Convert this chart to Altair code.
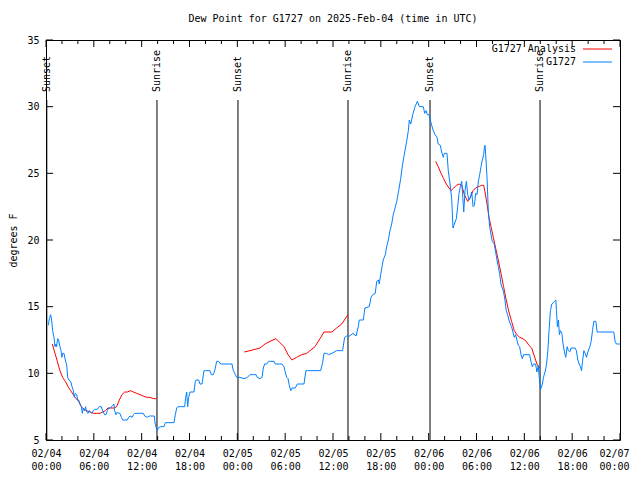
import altair as alt
import pandas as pd

# ---------------- data ----------------
blue_hours = [0.29, 0.42, 0.58, 0.71, 0.83, 1.0, 1.13, 1.25, 1.33, 1.46, 1.58, 1.75, 1.88, 2.0, 2.1, 2.26,
              2.38, 2.6, 2.72, 2.88, 3.1, 3.26, 3.43, 3.55, 3.68, 3.85, 3.97, 4.1, 4.26, 4.43, 4.56, 4.68,
              4.81, 4.97, 5.1, 5.27, 5.43, 5.6, 5.77, 5.94, 6.1, 6.44, 6.69, 6.94, 7.1, 7.36, 7.53, 7.7,
              7.86, 8.1, 8.36, 8.53, 8.6, 8.78, 8.95, 9.1, 9.28, 9.45, 9.62, 10.2, 10.37, 10.54, 10.8,
              10.96, 11.13, 12.2, 12.38, 12.7, 12.96, 13.58, 13.7, 13.88, 13.96, 14.09, 14.38, 14.8,
              14.97, 16.06, 16.22, 16.4, 16.56, 17.4, 17.52, 17.65, 17.77, 17.9, 18.06, 18.56, 18.73,
              18.82, 19.15, 19.32, 19.57, 19.82, 19.98, 20.57, 20.74, 20.99, 21.16, 21.41, 21.66, 21.91,
              23.33, 23.5, 23.75, 23.92, 24.34, 24.84, 25.26, 25.59, 26.0, 26.34, 26.5, 26.84, 27.1,
              27.26, 27.43, 27.68, 27.93, 28.18, 28.6, 28.77, 29.6, 29.85, 30.0, 30.2, 30.36, 30.52,
              30.7, 30.86, 31.27, 31.52, 32.36, 32.6, 32.78, 34.45, 34.7, 34.87, 35.2, 35.45, 35.87,
              36.46, 37.2, 37.46, 37.7, 38.1, 38.5, 38.9, 39.17, 39.3, 39.8, 40.0, 40.55, 40.77, 40.98,
              41.3, 41.48, 41.7, 41.8, 41.98, 42.15, 42.3, 42.56, 42.73, 42.94, 43.15, 43.36, 43.56,
              43.78, 44.0, 44.24, 44.49, 44.66, 44.82, 45.24, 45.45, 45.57, 45.75, 46.0, 46.29, 46.58,
              46.83, 47.33, 47.5, 47.67, 47.83, 48.04, 48.2, 48.38, 48.58, 48.8, 49.05, 49.2, 49.46,
              49.63, 49.83, 49.96, 50.3, 50.46, 50.68, 50.9, 51.05, 51.22, 51.47, 51.64, 51.81, 51.97,
              52.15, 52.28, 52.4, 52.56, 52.73, 52.9, 53.07, 53.23, 53.4, 53.57, 53.73, 53.9, 54.07,
              54.23, 54.4, 54.57, 54.73, 54.9, 54.98, 55.07, 55.15, 55.32, 55.48, 55.65, 55.82, 55.98,
              56.23, 56.4, 56.57, 56.73, 56.9, 57.07, 57.23, 57.4, 57.57, 57.73, 57.9, 58.07, 58.24,
              58.4, 58.57, 58.74, 58.9, 59.07, 59.24, 59.41, 59.58, 59.75, 59.91, 60.66, 60.83, 61.0,
              61.16, 61.41, 61.58, 61.75, 61.87, 62.04, 62.27, 62.4, 62.6, 62.77, 62.95, 63.1, 63.27,
              63.45, 63.62, 63.78, 63.95, 64.03, 64.15, 64.28, 64.4, 64.53, 64.7, 64.86, 65.03, 65.2,
              65.37, 65.53, 65.7, 65.87, 66.37, 66.53, 66.71, 66.87, 67.04, 67.17, 67.3, 67.47, 67.63,
              67.8, 67.97, 68.22, 68.38, 68.55, 68.72, 68.97, 69.13, 71.22, 71.38, 71.55, 72.0]
blue_values = [13.6, 14.1, 14.4, 14.0, 13.2, 12.7, 12.0, 12.2, 12.0, 12.6, 12.5, 12.0, 11.7, 11.2, 11.5, 11.5,
               11.1, 10.6, 9.7, 9.5, 9.4, 9.0, 8.7, 8.2, 8.5, 8.4, 8.0, 8.0, 7.7, 7.5, 7.0, 7.4,
               7.2, 7.5, 7.1, 7.0, 7.2, 7.1, 7.0, 7.2, 7.3, 7.3, 7.5, 7.5, 7.2, 6.9, 6.9, 7.2,
               7.4, 7.4, 7.6, 7.7, 7.2, 6.9, 7.1, 7.0, 7.0, 6.7, 6.5, 6.5, 6.7, 6.8, 6.7,
               6.9, 7.0, 7.0, 6.8, 6.7, 6.8, 6.8, 6.2, 5.8, 5.7, 5.9, 6.0, 6.0,
               6.3, 6.3, 6.9, 7.4, 7.5, 7.5, 8.2, 8.6, 7.5, 8.2, 8.6, 8.6, 9.4,
               9.5, 9.5, 9.2, 9.2, 10.2, 10.2, 10.2, 9.9, 9.9, 10.2, 10.9, 10.9, 10.7,
               10.7, 10.2, 9.9, 9.7, 9.7, 9.6, 9.7, 9.9, 9.9, 9.9, 9.7, 9.6, 9.7,
               10.4, 10.7, 10.7, 10.9, 10.9, 10.9, 10.7, 10.7, 10.5, 10.1, 9.7, 9.6, 9.1,
               8.7, 8.9, 8.9, 9.2, 9.2, 10.2, 10.2, 10.2, 10.8, 11.5, 11.5, 11.4, 11.5,
               11.7, 11.7, 12.7, 12.8, 12.8, 13.0, 12.8, 13.5, 14.0, 14.0, 14.9, 15.0, 15.7, 15.9,
               16.0, 16.9, 17.0, 16.7, 17.4, 18.0, 18.5, 18.9, 19.5, 20.0, 20.7, 21.2, 21.9,
               22.4, 22.9, 23.7, 24.6, 25.4, 26.0, 27.4, 28.2, 29.0, 28.7, 29.4, 30.0, 30.4,
               30.0, 30.0, 29.5, 29.7, 29.4, 29.4, 29.0, 28.6, 28.2, 27.9, 27.7, 27.2, 27.1,
               26.6, 26.2, 26.5, 26.5, 25.2, 24.2, 23.0, 20.9, 21.2, 21.6, 22.5, 23.5, 24.0,
               24.4, 23.2, 22.1, 23.7, 24.4, 23.4, 23.0, 23.2, 23.6, 22.5, 22.6, 23.5, 23.4,
               24.4, 24.9, 25.5, 26.0, 26.4, 26.9, 27.1, 26.4, 24.7, 22.2, 21.0, 20.4, 19.9,
               19.7, 19.1, 18.5, 18.0, 17.5, 16.7, 16.4, 16.1, 15.5, 14.7, 14.4, 14.0, 13.7,
               13.5, 13.1, 12.7, 12.9, 12.5, 12.1, 12.0, 11.4, 11.1, 11.4, 11.4, 10.9, 10.5,
               10.7, 10.7, 10.1, 10.6, 9.7, 8.8, 9.2, 9.7, 10.1, 10.6, 11.7, 13.2, 14.7,
               15.2, 15.3, 15.4, 15.5, 14.7, 13.5, 14.0, 12.9, 13.2, 13.0, 12.2, 11.6, 11.2,
               12.0, 11.7, 11.6, 11.9, 11.9, 11.7, 11.0, 10.7, 10.5, 10.2, 10.9, 11.7, 11.5,
               11.2, 11.6, 12.0, 12.4, 13.2, 13.9, 13.9, 13.1, 13.1, 12.4, 12.2, 12.2]

red1_hours = [0.79, 1.13, 1.42, 1.75, 2.08, 2.42, 2.76, 3.1, 3.43, 3.76, 4.1, 4.43, 4.77, 5.1, 5.52,
              5.94, 6.36, 6.77, 7.1, 7.44, 7.78, 8.1, 8.53, 8.86, 9.2, 9.53, 9.87, 10.2, 10.62, 10.96,
              11.37, 11.79, 12.2, 12.62, 13.04, 13.46, 13.88]
red1_values = [12.2, 11.5, 10.9, 10.2, 9.7, 9.4, 9.0, 8.7, 8.4, 8.1, 7.9, 7.5, 7.3, 7.2, 7.1,
               7.0, 7.0, 7.0, 7.1, 7.2, 7.4, 7.4, 7.4, 7.5, 8.0, 8.4, 8.6, 8.6, 8.7, 8.6,
               8.5, 8.4, 8.3, 8.2, 8.2, 8.1, 8.1]
red2_hours = [24.87, 25.59, 26.22, 26.84, 27.47, 28.1, 28.85, 29.35, 29.85, 30.36, 30.86, 31.44,
              32.07, 32.7, 33.11, 33.74, 34.37, 34.87, 35.87, 36.46, 37.09, 37.88]
red2_values = [11.6, 11.7, 11.8, 11.9, 12.2, 12.4, 12.6, 12.3, 12.0, 11.4, 11.0, 11.2,
               11.4, 11.5, 11.7, 12.0, 12.6, 13.1, 13.1, 13.4, 13.7, 14.4]
red3_hours = [48.88, 49.2, 49.55, 49.88, 50.22, 50.55, 50.8, 51.14, 51.47, 51.81, 52.15, 52.48, 52.9,
              53.23, 53.57, 53.9, 54.23, 54.65, 54.9, 55.07, 55.32, 55.57, 55.82, 56.11, 56.4, 56.73,
              57.07, 57.4, 57.73, 58.07, 58.4, 58.74, 59.07, 59.41, 59.82, 60.24, 60.58, 60.92,
              61.25, 61.58, 61.9]
red3_values = [25.9, 25.5, 25.0, 24.6, 24.2, 23.9, 23.7, 23.9, 24.1, 24.2, 24.1, 23.4, 22.9,
               23.2, 23.7, 23.9, 24.0, 24.1, 24.1, 23.6, 22.7, 21.7, 21.0, 20.2, 19.4, 18.5,
               17.5, 16.5, 15.5, 14.6, 13.9, 13.2, 12.9, 12.7, 12.6, 12.4, 12.1, 11.9,
               11.3, 10.7, 10.4]

event_names = ["Sunset", "Sunrise", "Sunset", "Sunrise", "Sunset", "Sunrise"]
event_hours = [0.1, 13.92, 24.08, 37.88, 48.17, 61.97]

tick_dates = ["02/04", "02/04", "02/04", "02/04", "02/05", "02/05", "02/05", "02/05",
              "02/06", "02/06", "02/06", "02/06", "02/07"]
tick_times = ["00:00", "06:00", "12:00", "18:00", "00:00", "06:00", "12:00", "18:00",
              "00:00", "06:00", "12:00", "18:00", "00:00"]
y_ticks = [5, 10, 15, 20, 25, 30, 35]

legend_names = ["G1727 Analysis", "G1727"]
legend_colors = ["#ff0000", "#0080ff"]

TITLE = "Dew Point for G1727 on 2025-Feb-04 (time in UTC)"
FONT = "DejaVu Sans Mono"
W, H = 574, 400

# ---------------- frames ----------------
blue_df = pd.DataFrame({"h": blue_hours, "v": blue_values})
red_df = pd.concat([
    pd.DataFrame({"h": red1_hours, "v": red1_values, "seg": 1}),
    pd.DataFrame({"h": red2_hours, "v": red2_values, "seg": 2}),
    pd.DataFrame({"h": red3_hours, "v": red3_values, "seg": 3}),
], ignore_index=True)
event_df = pd.DataFrame({"h": event_hours, "name": event_names})
major_x = pd.DataFrame({"h": [6 * i for i in range(len(tick_dates))]})
minor_x = pd.DataFrame({"h": [h for h in range(0, 73, 2) if h % 6 != 0]})
ytick_df = pd.DataFrame({"v": y_ticks})

dates_js = "[" + ",".join("'%s'" % d for d in tick_dates) + "]"
times_js = "[" + ",".join("'%s'" % t for t in tick_times) + "]"
idx = "round(datum.value/6)"

xscale = alt.Scale(domain=[0, 72], nice=False, zero=False)
yscale = alt.Scale(domain=[5, 35], nice=False, zero=False)
xaxis = alt.Axis(values=list(major_x["h"]), ticks=False, domain=False, grid=False,
                 labelExpr=f"[{dates_js}[{idx}], {times_js}[{idx}]]",
                 labelOffset={"condition": {"test": "datum.value == 72", "value": -6}, "value": 0},
                 labelPadding=8, labelLineHeight=13.5, labelBaseline="top", labelOverlap=False,
                 labelFlush=False, labelBound=False, title=None)
yaxis = alt.Axis(values=y_ticks, ticks=False, domain=False, grid=False, labelPadding=7,
                 title="degrees F", titleX=-33, titleY=200, titleAngle=270, titleAlign="center",
                 titleBaseline="middle", titleFontWeight="normal")
X = alt.X("h:Q", scale=xscale, axis=xaxis)
Y = alt.Y("v:Q", scale=yscale, axis=yaxis)

layers = []

# sunrise / sunset lines and labels
layers.append(alt.Chart(event_df).mark_rule(color="black", strokeWidth=1).encode(
    x=X, y=alt.value(60), y2=alt.value(H)))
layers.append(alt.Chart(event_df).mark_text(font=FONT, fontSize=10, angle=270, align="left",
                                            baseline="middle", color="black").encode(
    x=X, y=alt.value(52), text="name:N"))

# ticks (inward, gnuplot style)
for df, ln in ((major_x, 7), (minor_x, 4)):
    layers.append(alt.Chart(df).mark_rule(color="black").encode(x=X, y=alt.value(H), y2=alt.value(H - ln)))
    layers.append(alt.Chart(df).mark_rule(color="black").encode(x=X, y=alt.value(0), y2=alt.value(ln)))
layers.append(alt.Chart(ytick_df).mark_rule(color="black").encode(y=Y, x=alt.value(0), x2=alt.value(7)))
layers.append(alt.Chart(ytick_df).mark_rule(color="black").encode(y=Y, x=alt.value(W), x2=alt.value(W - 7)))

# series
layers.append(alt.Chart(red_df).mark_line(color=legend_colors[0], strokeWidth=1).encode(
    x=X, y=Y, detail="seg:N"))
layers.append(alt.Chart(blue_df).mark_line(color=legend_colors[1], strokeWidth=1).encode(x=X, y=Y))

# legend
for i, (name, col) in enumerate(zip(legend_names, legend_colors)):
    ly = 9 + 13 * i
    one = pd.DataFrame({"name": [name]})
    layers.append(alt.Chart(one).mark_text(font=FONT, fontSize=10, align="right", baseline="middle",
                                           color="black").encode(
        x=alt.value(530), y=alt.value(ly), text="name:N"))
    layers.append(alt.Chart(one).mark_rule(color=col, strokeWidth=1).encode(
        x=alt.value(537), x2=alt.value(566), y=alt.value(ly)))

chart = alt.layer(*layers).properties(
    width=W, height=H,
    title=alt.TitleParams(TITLE, font=FONT, fontSize=10, fontWeight="normal", color="black",
                          anchor="middle", offset=11),
    autosize=alt.AutoSizeParams(type="none"),
    padding={"left": 38, "top": 32, "right": 12, "bottom": 32},
).configure_view(stroke="black", strokeWidth=1).configure_axis(
    labelFont=FONT, labelFontSize=10, labelColor="black", titleFont=FONT, titleFontSize=10,
    titleColor="black")

chart.save("out.html", embed_options={"renderer": "svg", "actions": False})
